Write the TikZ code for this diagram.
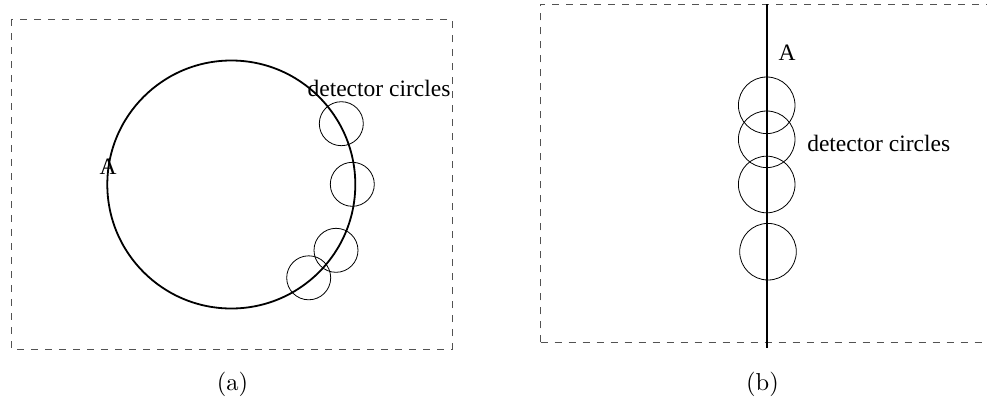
\documentclass[tikz,border=0pt]{standalone}
\usepackage{fontspec}
\newfontfamily\timesfont{Liberation Serif}
\tikzset{
  frame/.style={draw=black!68, line width=1pt, dash pattern=on 7pt off 7pt},
  orbit/.style={draw=black, line width=1.8pt},
  detc/.style={draw=black, line width=0.8pt},
  lbl/.style={font=\timesfont\fontsize{23.5}{28}\selectfont, inner sep=0pt, anchor=base},
  subcap/.style={font=\fontsize{10}{12}\selectfont, scale=2.45, inner sep=0pt, anchor=base}
}
\begin{document}
\begin{tikzpicture}[x=1pt,y=-1pt]
\clip (0,0) rectangle (987,402);
\fill[white] (0,0) rectangle (987,402);
% panel (a)
\draw[frame] (11,19) rectangle (452,349);
\draw[orbit] (231.3,184.5) circle[radius=124];
\draw[detc] (341.3,123.7) circle[radius=22];
\draw[detc] (352.3,184.3) circle[radius=22];
\draw[detc] (336,250.3) circle[radius=22];
\draw[detc] (308.7,277.8) circle[radius=22];
\node[lbl] (Aa) at (108,174) {A};
\node[lbl] (da) at (379,96.5) {detector circles};
\node[subcap] (capa) at (232.5,390.5) {(a)};
% panel (b)
\draw[frame] (540.7,342.3) -- (540.7,4) -- (1000,4);
\draw[frame] (540.7,342.3) -- (1000,342.3);
\coordinate (ltop) at (766.7,4);
\coordinate (lbot) at (766.7,348.3);
\draw[orbit] (ltop) -- (lbot);
\draw[detc] (766.7,105.3) circle[radius=28.3];
\draw[detc] (766.7,139.3) circle[radius=28.3];
\draw[detc] (766.7,184.5) circle[radius=28.3];
\draw[detc] (768,251.7) circle[radius=28.3];
\node[lbl] (Ab) at (787,60) {A};
\node[lbl] (db) at (878.7,151) {detector circles};
\node[subcap] (capb) at (762.5,390.5) {(b)};
\end{tikzpicture}
\end{document}
